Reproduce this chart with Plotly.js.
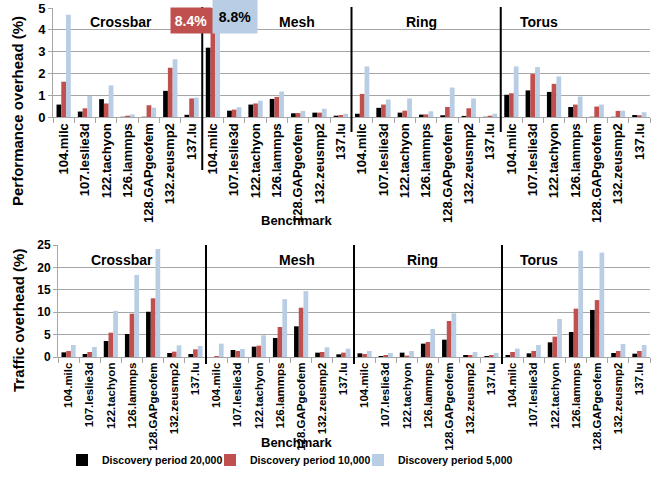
<!DOCTYPE html>
<html><head><meta charset="utf-8">
<script src="https://cdn.plot.ly/plotly-3.0.1.min.js"></script>
<style>html,body{margin:0;padding:0;background:#fff}</style>
</head><body><div id="chart" style="width:657px;height:491px"></div>
<script>
const topologies = ["Crossbar","Mesh","Ring","Torus"];
const benchmarks = ["104.milc","107.leslie3d","122.tachyon","126.lammps","128.GAPgeofem","132.zeusmp2","137.lu"];
const seriesNames = ["Discovery period 20,000","Discovery period 10,000","Discovery period 5,000"];
// Performance overhead (%), 7 benchmarks per topology (Crossbar, Mesh, Ring, Torus)
const perf20k = [0.57,0.25,0.82,0.01,0.01,1.20,0.10, 3.18,0.29,0.57,0.83,0.17,0.20,0.06, 0.15,0.42,0.20,0.11,0.08,0.05,0.01, 1.02,1.22,1.15,0.46,0.01,0.01,0.09];
const perf10k = [1.62,0.40,0.62,0.06,0.54,2.26,0.85, 8.4,0.34,0.62,0.92,0.18,0.20,0.09, 1.06,0.57,0.29,0.12,0.46,0.40,0.06, 1.09,1.97,1.52,0.57,0.48,0.28,0.08];
const perf5k  = [4.69,0.97,1.45,0.12,0.43,2.65,0.89, 8.8,0.45,0.75,1.17,0.28,0.38,0.15, 2.32,0.80,0.85,0.26,1.35,0.85,0.15, 2.32,2.29,1.86,0.94,0.57,0.29,0.22];
// Traffic overhead (%)
const traffic20k = [1.04,0.67,3.57,5.13,10.1,0.90,0.67, 0.0,1.56,2.31,4.24,6.85,0.97,0.60, 0.82,0.22,0.97,2.98,3.87,0.45,0.22, 0.45,0.82,3.27,5.58,10.5,0.89,0.74];
const traffic10k = [1.34,1.12,5.43,9.67,13.1,1.19,1.71, 0.22,1.34,2.53,6.70,11.0,1.12,0.97, 0.67,0.45,0.30,3.35,8.04,0.45,0.45, 1.12,1.34,4.54,10.8,12.7,1.34,1.34];
const traffic5k  = [2.68,2.23,10.3,18.3,24.1,2.60,2.46, 2.98,1.79,4.84,12.9,14.7,2.16,1.86, 1.34,0.89,1.34,6.25,9.75,1.12,0.89, 1.86,2.68,8.48,23.7,23.3,2.90,2.68];
const clippedLabels = ["8.4%","8.8%"];

const colors = ["#000000","#C0504D","#B9CDE5"];
const W = 657, H = 491;
const px = v => v / W, py = v => 1 - v / H;

const xs = [], ticktext = [];
topologies.forEach((t, gi) => benchmarks.forEach((b, bi) => { xs.push(gi * benchmarks.length + bi); ticktext.push(b); }));
const bounds = [];
for (let i = 0; i <= xs.length; i++) bounds.push(i - 0.5);

const legendIds = ['legend', 'legend2', 'legend3'];
const perfSeries = [perf20k, perf10k, perf5k];
const trafSeries = [traffic20k, traffic10k, traffic5k];
const traces = [];
perfSeries.forEach((s, i) => traces.push({type:'bar', x: xs, y: s, name: seriesNames[i], marker:{color: colors[i]}, xaxis:'x', yaxis:'y', legend: legendIds[i], legendgroup: 'g'+i, showlegend: true}));
trafSeries.forEach((s, i) => traces.push({type:'bar', x: xs, y: s, name: seriesNames[i], marker:{color: colors[i]}, xaxis:'x2', yaxis:'y2', legend: legendIds[i], legendgroup: 'g'+i, showlegend: false}));

const FONT = '"Liberation Sans", Arial, sans-serif';
const gridC = '#A6A6A6';
function xaxisDef(l, r, anchor, fs) {
  return {domain:[px(l), px(r)], anchor: anchor, range:[-0.5, xs.length - 0.5], tickmode:'array', tickvals: xs, ticktext: ticktext,
    tickangle:-90, tickfont:{size:fs, family:FONT, weight:'bold', color:'#000'}, ticks:'', showgrid:false, zeroline:false,
    showline:true, linecolor:gridC, linewidth:1,
    minor:{tickmode:'array', tickvals: bounds, ticks:'outside', ticklen:5, tickcolor:gridC, showgrid:false}};
}
function yaxisDef(top, bot, range, dtick, fs, anchor) {
  return {domain:[py(bot), py(top)], anchor: anchor, range: range, dtick: dtick, showgrid:true, gridcolor: gridC, gridwidth:1,
    showline:true, linecolor:gridC, ticks:'outside', ticklen:4, tickcolor:gridC, zeroline:false,
    tickfont:{size:fs, family:FONT, weight:'bold', color:'#000'}};
}

const annotations = [];
const groupLabelTop = [121, 297, 421, 539], groupLabelBot = [122, 297, 422, 539];
topologies.forEach((t, i) => {
  annotations.push({text:t, xref:'paper', yref:'paper', x: px(groupLabelTop[i]), y: py(22), showarrow:false, xanchor:'center', yanchor:'middle', font:{size:14, family:FONT, weight:'bold', color:'#000'}});
  annotations.push({text:t, xref:'paper', yref:'paper', x: px(groupLabelBot[i]), y: py(260), showarrow:false, xanchor:'center', yanchor:'middle', font:{size:14, family:FONT, weight:'bold', color:'#000'}});
});
annotations.push({text:'Performance overhead (%)', textangle:-90, xref:'paper', yref:'paper', x: px(17), y: py(111), showarrow:false, xanchor:'center', yanchor:'middle', font:{size:15, family:FONT, weight:'bold'}});
annotations.push({text:'Traffic overhead (%)', textangle:-90, xref:'paper', yref:'paper', x: px(18), y: py(321), showarrow:false, xanchor:'center', yanchor:'middle', font:{size:15, family:FONT, weight:'bold'}});
annotations.push({text:'Benchmark', xref:'paper', yref:'paper', x: px(297), y: py(221), showarrow:false, xanchor:'center', yanchor:'middle', font:{size:13, family:FONT, weight:'bold'}});
annotations.push({text:'Benchmark', xref:'paper', yref:'paper', x: px(297), y: py(442), showarrow:false, xanchor:'center', yanchor:'middle', font:{size:13, family:FONT, weight:'bold'}});
// clipped value boxes on Mesh 104.milc
const meshMilc = xs[benchmarks.length];
annotations.push({text: clippedLabels[0], xref:'x', yref:'y', x: meshMilc, y: 5, xshift:-22, yshift:-12, showarrow:false, xanchor:'center', yanchor:'middle',
  width:40, height:25, bgcolor: colors[1], borderpad:0, font:{size:14, family:FONT, weight:'bold', color:'#fff'}});
annotations.push({text: clippedLabels[1], xref:'x', yref:'y', x: meshMilc, y: 5, xshift:22, yshift:-8, showarrow:false, xanchor:'center', yanchor:'middle',
  width:44, height:33, bgcolor: colors[2], borderpad:0, font:{size:14, family:FONT, weight:'bold', color:'#000'}});

const shapes = [];
[6.5, 13.5, 20.5].forEach((b, i) => {
  shapes.push({type:'line', xref:'x', yref:'paper', x0:b, x1:b, y0: py(i === 0 ? 170 : 132), y1: py(7), line:{color:'#000', width:2}});
  shapes.push({type:'line', xref:'x2', yref:'paper', x0:b, x1:b, y0: py(364), y1: py(245), line:{color:'#000', width:2}});
});

function legendDef(left) {
  return {orientation:'h', x: px(left), xanchor:'left', y: py(460), yanchor:'middle', font:{size:10.5, family:FONT, weight:'bold'},
    itemwidth:30, bgcolor:'rgba(0,0,0,0)', borderwidth:0};
}
const layout = {
  width: W, height: H, margin:{l:0, r:0, t:0, b:0}, paper_bgcolor:'#fff', plot_bgcolor:'#fff',
  font:{family: FONT, size:12, color:'#000', weight:'bold'},
  barmode:'group', bargap:0.33, bargroupgap:0,
  xaxis: xaxisDef(53, 650, 'y', 13), yaxis: yaxisDef(8, 117, [0, 5], 1, 13, 'x'),
  xaxis2: xaxisDef(58, 650, 'y2', 11.5), yaxis2: yaxisDef(245, 357, [0, 25], 5, 12, 'x2'),
  showlegend: true,
  legend: legendDef(62), legend2: legendDef(210), legend3: legendDef(358),
  annotations: annotations, shapes: shapes
};
Plotly.newPlot('chart', traces, layout, {displayModeBar:false, staticPlot:true});
</script></body></html>
